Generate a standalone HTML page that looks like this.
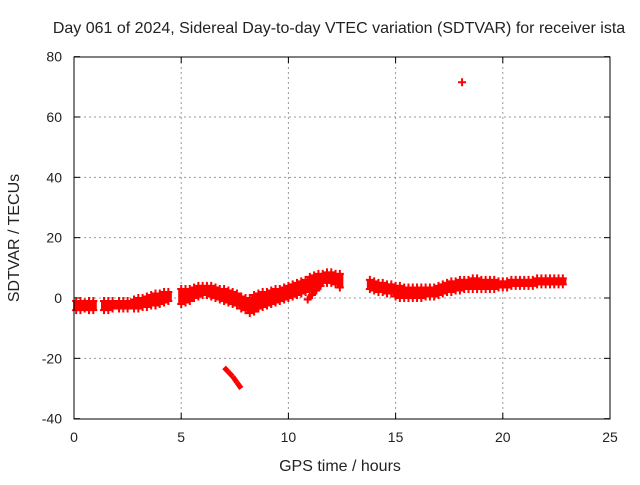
<!DOCTYPE html>
<html><head><meta charset="utf-8"><style>
body{margin:0;background:#fff;}
svg text{font-family:"Liberation Sans",sans-serif;font-size:14px;fill:#222;}
svg text.big{font-size:16px;}
</style></head><body>
<svg id="c" width="640" height="480">
<rect width="640" height="480" fill="#fff"/>
<text class="big" x="339" y="33" text-anchor="middle">Day 061 of 2024, Sidereal Day-to-day VTEC variation (SDTVAR) for receiver ista</text>
<text class="big" x="340" y="471" text-anchor="middle">GPS time / hours</text>
<text class="big" transform="translate(19,238) rotate(-90)" text-anchor="middle">SDTVAR / TECUs</text>
<g id="grid"></g><g id="marks"></g>
<rect x="74" y="57" width="536" height="362" fill="none" stroke="#000" stroke-width="1"/>
</svg>
<script>
const xTicks=[0,5,10,15,20,25];
const yTicks=[-40,-20,0,20,40,60,80];
const times=[0.1,0.3,0.5,0.7,0.9,1.4,1.6,1.8,2.1,2.3,2.5,2.8,3.0,3.2,3.4,3.6,3.8,4.0,4.2,4.4,5.0,5.2,5.4,5.6,5.8,6.0,6.2,6.4,6.6,6.8,7.0,7.2,7.4,7.6,7.8,8.0,8.2,8.4,8.6,8.8,9.0,9.2,9.4,9.6,9.8,10.0,10.2,10.4,10.6,10.8,11.0,11.2,11.4,11.6,11.8,12.0,12.2,12.4,
13.8,14.0,14.2,14.4,14.6,14.8,15.0,15.2,15.4,15.6,15.8,16.0,16.2,16.4,16.6,16.8,17.0,17.2,17.4,17.6,17.8,18.0,18.2,18.4,18.6,18.8,19.0,19.2,19.4,19.6,19.8,20.0,20.2,20.4,20.6,20.8,21.0,21.2,21.4,21.6,21.8,22.0,22.2,22.4,22.6,22.8];
const lows=[-4,-4,-3.5,-4,-4,-4,-4,-3.5,-3.5,-3.5,-3.5,-3.5,-3.5,-3,-3,-2.5,-2.5,-2,-1.5,-1,-2,-1.5,-1,0,0.5,1,1,0.5,0,-0.5,-1,-1.5,-2,-2.5,-3.5,-4,-5,-4.5,-3.5,-3,-2.5,-2,-1.5,-1,-0.5,0,0.5,1,1.5,2,2.5,3.5,4.5,5,5,5,4.5,3.5,
3,2.5,2,2,1.5,1.5,0.5,0,0,0,0,0,0,0.5,0.5,0.5,1,1.5,2,2,2.5,2.5,3,3,3,3,3,3,3,3,3.5,3.5,3.5,4,4,4,4,4,4,4.5,4.5,4.5,4.5,4.5,4.5,4.5];
const highs=[-1,-1,-1.5,-1,-1,-1,-1,-1,-1,-1,-1,-0.5,0,0,0.5,1,1.5,1.5,2,2,3,3,3,3.5,4,4,4,4,3.5,3,3,2.5,2,1.5,0.5,0,0,1,1.5,2,2,2.5,3,3,3.5,4,4.5,5,5.5,6,7,7.5,8,8,8.5,8.5,8,8,
6,5.5,5,5,4.5,4.5,4,4,3.5,3.5,3.5,3.5,3.5,3.5,3.5,3.5,4,4.5,5,5.5,5.5,6,6,6,6.5,6.5,6,6,6,6,5.5,5.5,5.5,6,6,6,6,6,6,6.5,6.5,6.5,6.5,6.5,6.5,6.5];
const branchT=[10.9,11.1,11.3,11.5];
const branchV=[-0.5,1,2.5,4];
const negT=[7.0,7.2,7.4,7.6,7.8];
const negV=[-23,-24.5,-26,-28,-30];
const outT=[18.1];
const outV=[71.5];
const X=t=>74+t*536/25;
const Y=v=>298-v*362/120;
const NS="http://www.w3.org/2000/svg";
const grid=document.getElementById('grid'),marks=document.getElementById('marks');
function mk(tag,attrs,parent){const e=document.createElementNS(NS,tag);for(const k in attrs)e.setAttribute(k,attrs[k]);parent.appendChild(e);return e;}
xTicks.forEach(t=>{
 if(t>0&&t<25){const g=mk('line',{x1:X(t),x2:X(t),y1:57,y2:419,stroke:'#999','stroke-dasharray':'2,3'},grid);}
 mk('line',{x1:X(t),x2:X(t),y1:419,y2:413,stroke:'#000'},grid);mk('line',{x1:X(t),x2:X(t),y1:57,y2:63,stroke:'#000'},grid);
 const l=mk('text',{x:X(t),y:442,'text-anchor':'middle'},grid);l.textContent=t;
 
 
});
yTicks.forEach(v=>{
 if(v>-40&&v<80){const g=mk('line',{x1:74,x2:610,y1:Y(v),y2:Y(v),stroke:'#999','stroke-dasharray':'2,3'},grid);}
 mk('line',{x1:74,x2:80,y1:Y(v),y2:Y(v),stroke:'#000'},grid);mk('line',{x1:604,x2:610,y1:Y(v),y2:Y(v),stroke:'#000'},grid);
 const l=mk('text',{x:62,y:Y(v)+5,'text-anchor':'end'},grid);l.textContent=v;
 
 
});
function plus(t,v){const x=X(t),y=Y(v);const p=mk('path',{d:`M${x-4},${y}H${x+4}M${x},${y-4}V${y+4}`,stroke:'#f00','stroke-width':2},marks);

}
times.forEach((t,i)=>{
 const r=mk('rect',{x:X(t)-3,y:Y(highs[i]),width:6.5,height:Y(lows[i])-Y(highs[i]),fill:'#f00'},marks);
 
 
 plus(t,lows[i]);plus(t,highs[i]);
});
branchT.forEach((t,i)=>plus(t,branchV[i]));
for(let i=0;i<negT.length-1;i++){const l=mk('line',{x1:X(negT[i]),y1:Y(negV[i]),x2:X(negT[i+1]),y2:Y(negV[i+1]),stroke:'#f00','stroke-width':5},marks);

}
for(let i=0;i<branchT.length-1;i++){const l=mk('line',{x1:X(branchT[i]),y1:Y(branchV[i]),x2:X(branchT[i+1]),y2:Y(branchV[i+1]),stroke:'#f00','stroke-width':4},marks);

}
outT.forEach((t,i)=>plus(t,outV[i]));
</script>
</body></html>
